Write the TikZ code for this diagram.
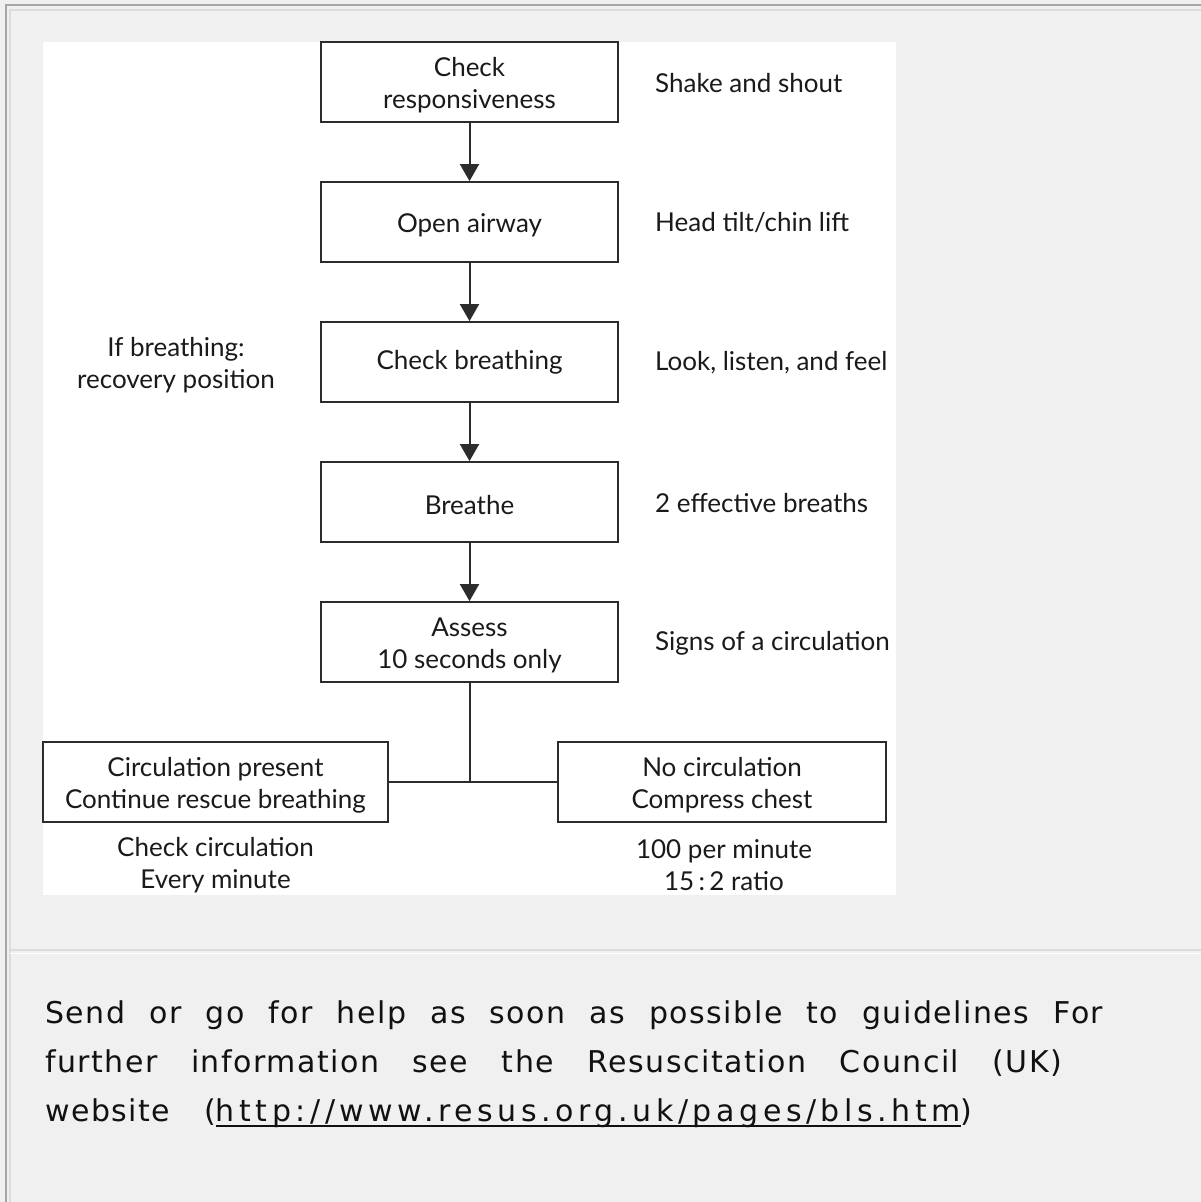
\documentclass[tikz,border=0pt]{standalone}
\usepackage{fontspec}
\setmainfont{Lato}
\newfontfamily\notefont[LetterSpace=5]{DejaVu Sans}
\newfontfamily\linkfont[LetterSpace=15.2]{DejaVu Sans}
\usetikzlibrary{arrows.meta}

\definecolor{pagebg}{HTML}{F0F0F0}
\definecolor{framedark}{HTML}{A6A6A6}
\definecolor{framelight}{HTML}{DCDCDC}
\definecolor{ink}{HTML}{1A1A1A}
\definecolor{boxline}{HTML}{2C2C2C}
\definecolor{notetext}{HTML}{111111}

% underlined link text with the rule running through the descenders
\newsavebox\linkbox
\newcommand\ulink[1]{\sbox\linkbox{#1}\rlap{\rule[-6pt]{\wd\linkbox}{1.8pt}}\usebox\linkbox}
% extra room above the first line of a stacked label, lowering the block a little
\newcommand\lift{\rule{0pt}{25pt}}

\newcommand\diagfont{\fontsize{26}{32}\selectfont}
\newcommand\notesize{\fontsize{30}{40}\selectfont}

\begin{document}
\begin{tikzpicture}[x=1pt,y=-1pt,
  stepbox/.style={draw=boxline, line width=1.8pt, minimum width=297pt,
    minimum height=80pt, inner sep=0pt, align=center, font=\diagfont, text=ink},
  side/.style={inner sep=0pt, font=\diagfont, text=ink, align=center},
  flow/.style={draw=boxline, line width=2pt, -{Triangle[length=17pt,width=19pt]}},
  plain/.style={draw=boxline, line width=2pt},
  note/.style={inner sep=0pt, anchor=base west, font=\notefont\notesize, text=notetext}]

\useasboundingbox (0,0) rectangle (1201,1202);
% page background and frame
\fill[pagebg] (0,0) rectangle (1201,1202);
\draw[framedark, line width=1.2pt] (6,1202) -- (6,5) -- (1201,5);
\draw[framelight, line width=1.2pt] (10,1202) -- (10,10) -- (1201,10);
\draw[framelight, line width=1.5pt] (10,950) -- (1201,950);
\draw[white, line width=1pt] (10,953) -- (1201,953);

% white panel holding the flow chart
\fill[white] (43,42) rectangle (896,895);

% main column
\node[stepbox] (b1) at (469.5,82)  {\lift Check\\responsiveness};
\node[stepbox] (b2) at (469.5,222) {\lift Open airway};
\node[stepbox] (b3) at (469.5,362) {Check breathing};
\node[stepbox] (b4) at (469.5,502) {\lift Breathe};
\node[stepbox] (b5) at (469.5,642) {\lift Assess\\10 seconds only};

% branches
\node[stepbox, minimum width=345pt] (cp) at (215.5,782) {\lift Circulation present\\Continue rescue breathing};
\node[stepbox, minimum width=328pt] (nc) at (722,782) {\lift No circulation\\Compress chest};

% notes beside the steps
\node[side, anchor=west] (r1) at (655,83)  {Shake and shout};
\node[side, anchor=west] (r2) at (655,223) {Head tilt/chin lift};
\node[side, anchor=west] (r3) at (655,363) {Look, listen, and feel};
\node[side, anchor=west] (r4) at (655,503) {2 effective breaths};
\node[side, anchor=west] (r5) at (655,643) {Signs of a circulation};
\node[side] (l3) at (176,362) {\lift If breathing:\\recovery position};
\node[side] (cpn) at (215.5,862) {\lift Check circulation\\Every minute};
\node[side] (ncn) at (724,862) {\lift 100 per minute\\15\,:\,2 ratio};

% connectors
\draw[flow] (b1.south) -- (b2.north);
\draw[flow] (b2.south) -- (b3.north);
\draw[flow] (b3.south) -- (b4.north);
\draw[flow] (b4.south) -- (b5.north);
\coordinate (split) at (b5.south |- cp.east);
\draw[plain] (b5.south) -- (split);
\draw[plain] (cp.east) -- (nc.west);

% footnote text
\node[note] (t1) at (45,1023) {\makebox[1058pt][s]{Send or go for help as soon as possible to guidelines For}};
\node[note] (t2) at (45,1072) {\makebox[1017pt][s]{further information see the Resuscitation Council (UK)}};
\node[note] (t3) at (45,1121) {website};
\node[note] (t4) at (204,1121) {(\ulink{\linkfont http://www.resus.org.uk/pages/bls.htm})};
\end{tikzpicture}
\end{document}
